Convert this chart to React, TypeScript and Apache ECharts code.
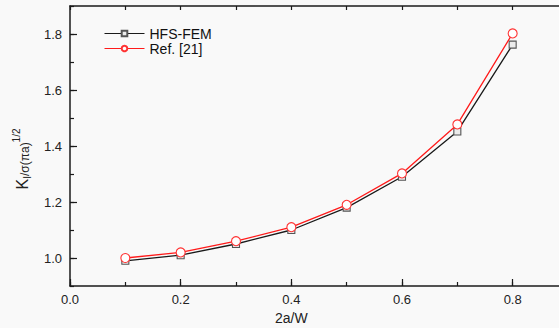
import React, { useEffect, useRef } from "react";
import * as echarts from "echarts";

const xValues = [0.1, 0.2, 0.3, 0.4, 0.5, 0.6, 0.7, 0.8];
const hfsFem = [0.99, 1.01, 1.05, 1.1, 1.18, 1.29, 1.452, 1.762];
const ref21 = [1.0, 1.02, 1.06, 1.11, 1.19, 1.302, 1.477, 1.802];
const seriesNames = ["HFS-FEM", "Ref. [21]"];

const FONT = "Liberation Sans, Arial, sans-serif";
const AXIS_COLOR = "#1a1a1a";

export default function App() {
  const ref = useRef<HTMLDivElement>(null);
  useEffect(() => {
    if (!ref.current) return;
    const chart = echarts.init(ref.current, null, { renderer: "svg" });
    const fmt = (v: number) => v.toFixed(1);
    const thinAxis = (extra: any) => ({
      type: "value",
      min: 0,
      max: 0.9,
      interval: 0.1,
      axisLine: { show: true, onZero: false, lineStyle: { color: AXIS_COLOR, width: 1.5 } },
      axisTick: { show: true, inside: true, length: 4, lineStyle: { color: AXIS_COLOR, width: 1.2 } },
      axisLabel: { show: false },
      splitLine: { show: false },
      ...extra,
    });
    chart.setOption({
      animation: false,
      backgroundColor: "#f9f9f9",
      textStyle: { fontFamily: FONT },
      grid: [
        { left: 70, top: 6, width: 498, height: 280, outerBoundsMode: "none", containLabel: false },
        { left: 70, top: 34, width: (498 * 0.8) / 0.9, height: 224, outerBoundsMode: "none", containLabel: false },
      ],
      legend: {
        show: true,
        orient: "vertical",
        left: 99,
        top: 21,
        itemWidth: 40,
        itemHeight: 7,
        itemGap: 0,
        data: seriesNames,
        lineStyle: { width: 1 },
        textStyle: { fontFamily: FONT, fontSize: 14, color: "#111", lineHeight: 15 },
      },
      xAxis: [
        thinAxis({ gridIndex: 0, position: "bottom" }),
        thinAxis({ gridIndex: 0, position: "top" }),
        {
          type: "value",
          gridIndex: 1,
          position: "bottom",
          offset: 28,
          min: 0,
          max: 0.8,
          interval: 0.2,
          axisLine: { show: false },
          axisTick: { show: true, inside: true, length: 7, lineStyle: { color: AXIS_COLOR, width: 1.2 } },
          axisLabel: { show: true, formatter: fmt, margin: 7, fontSize: 13, color: "#222", fontFamily: FONT },
          splitLine: { show: false },
          name: "2a/W",
          nameLocation: "middle",
          nameGap: 25,
          nameTextStyle: { fontSize: 14, color: "#222", fontFamily: FONT },
        },
      ],
      yAxis: [
        thinAxis({ gridIndex: 0, position: "left", min: 0.9, max: 1.9 }),
        {
          type: "value",
          gridIndex: 1,
          position: "left",
          min: 1.0,
          max: 1.8,
          interval: 0.2,
          axisLine: { show: false },
          axisTick: { show: true, inside: true, length: 7, lineStyle: { color: AXIS_COLOR, width: 1.2 } },
          axisLabel: { show: true, formatter: fmt, margin: 8, fontSize: 13, color: "#222", fontFamily: FONT },
          splitLine: { show: false },
          name: "{k|K}{s|I}{t|/σ(πa)}{p|1/2}",
          nameLocation: "middle",
          nameGap: 40,
          nameRotate: 90,
          nameTextStyle: {
            color: "#222",
            fontFamily: FONT,
            padding: [0, 26, 0, 0],
            rich: {
              k: { fontSize: 16, color: "#222", fontFamily: FONT, verticalAlign: "bottom" },
              s: { fontSize: 10, color: "#222", fontFamily: FONT, verticalAlign: "bottom", padding: [0, 0, -2, 0] },
              t: { fontSize: 12, color: "#222", fontFamily: FONT, verticalAlign: "bottom", padding: [0, 0, -1, 0] },
              p: { fontSize: 10, color: "#222", fontFamily: FONT, verticalAlign: "top", padding: [-3, 0, 0, 0] },
            },
          },
        },
      ],
      series: [
        {
          name: seriesNames[0],
          type: "line",
          xAxisIndex: 0,
          yAxisIndex: 0,
          data: xValues.map((x, i) => [x, hfsFem[i]]),
          symbol: "rect",
          symbolSize: 7,
          lineStyle: { color: "#1a1a1a", width: 1.3 },
          itemStyle: { color: "#ececec", borderColor: "#555", borderWidth: 1.1 },
          z: 2,
        },
        {
          name: seriesNames[1],
          type: "line",
          xAxisIndex: 0,
          yAxisIndex: 0,
          data: xValues.map((x, i) => [x, ref21[i]]),
          symbol: "circle",
          symbolSize: 9,
          lineStyle: { color: "#ff1a1a", width: 1.3 },
          itemStyle: { color: "#ffffff", borderColor: "#ff3333", borderWidth: 1.1 },
          z: 3,
        },
      ],
    });
    return () => chart.dispose();
  }, []);
  return (
    <div
      ref={ref}
      style={{ position: "absolute", left: 0, top: 0, width: 559, height: 328, overflow: "hidden" }}
    />
  );
}
